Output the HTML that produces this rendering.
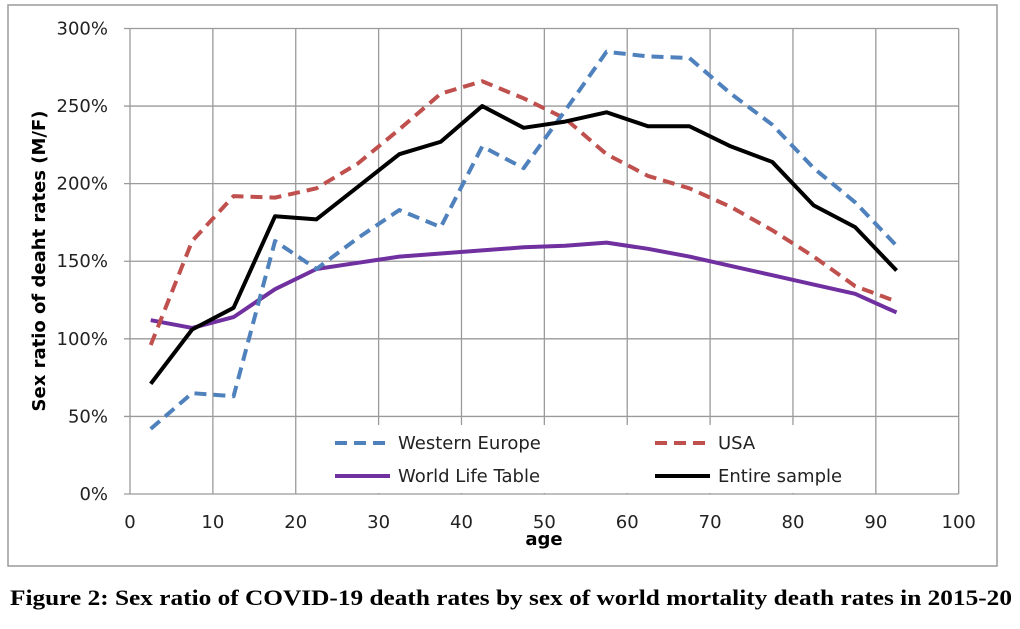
<!DOCTYPE html>
<html><head><meta charset="utf-8"><style>
body{margin:0;background:#fff;width:1020px;height:624px;overflow:hidden}
svg text{font-family:"DejaVu Sans","Liberation Sans",sans-serif}
</style></head><body>
<svg id="chart" width="1020" height="624">
<rect x="8" y="5" width="989" height="561" fill="#fff" stroke="#9a9a9a" stroke-width="1.5"/>
<g id="grid"></g><g id="series"></g><g id="legend"></g>
<text x="544" y="545" font-size="18" font-weight="bold" text-anchor="middle">age</text>
<text transform="translate(45,261) rotate(-90)" font-size="18" font-weight="bold" text-anchor="middle">Sex ratio of deaht rates (M/F)</text>
<text x="10" y="605" font-size="22" font-weight="bold" textLength="1002" lengthAdjust="spacingAndGlyphs" style="font-family:'Liberation Serif',serif">Figure 2: Sex ratio of COVID-19 death rates by sex of world mortality death rates in 2015-20</text>
</svg>
<script>
const ages=[2.5,7.5,12.5,17.5,22.5,27.5,32.5,37.5,42.5,47.5,52.5,57.5,62.5,67.5,72.5,77.5,82.5,87.5,92.5];
const westernEurope=[42,65,63,163,145,165,183,172,224,210,247,285,282,281,258,238,210,188,160];
const usa=[96,163,192,191,197,213,235,258,266,255,242,219,205,197,185,170,153,134,124];
const worldLife=[112,107,114,132,145,149,153,155,157,159,160,162,158,153,147,141,135,129,117];
const entireSample=[71,106,120,179,177,198,219,227,250,236,240,246,237,237,224,214,186,172,144];
const xTicks=[0,10,20,30,40,50,60,70,80,90,100];
const yTicks=[0,50,100,150,200,250,300];
const NS="http://www.w3.org/2000/svg";
const X=v=>130+v*8.287, Y=v=>494-v*1.5517;
function mk(t,a,p){const e=document.createElementNS(NS,t);for(const k in a)e.setAttribute(k,a[k]);p.appendChild(e);return e;}
const g=document.getElementById('grid');
xTicks.forEach(t=>{const l=mk('line',{x1:X(t),x2:X(t),y1:Y(300),y2:Y(0),stroke:'#9a9a9a','stroke-width':1.3},g);


const tx=mk('text',{x:X(t),y:528,'font-size':18,'text-anchor':'middle',fill:'#222'},g);tx.textContent=t;

});
yTicks.forEach(t=>{const l=mk('line',{x1:X(0)-6,x2:X(100),y1:Y(t),y2:Y(t),stroke:'#9a9a9a','stroke-width':1.3},g);


const tx=mk('text',{x:108,y:Y(t)+6,'font-size':18,'text-anchor':'end',fill:'#222'},g);tx.textContent=t+'%';

});
const s=document.getElementById('series');
function line(vals,col,dash,name){const p=mk('polyline',{points:vals.map((v,i)=>X(ages[i])+','+Y(v)).join(' '),fill:'none',stroke:col,'stroke-width':4,'stroke-dasharray':dash,'stroke-linejoin':'round'},s);

}
line(worldLife,'#7030a0','none','series-world-life-table');
line(usa,'#c0504d','12 7','series-usa');
line(westernEurope,'#4f81bd','12 7','series-western-europe');
line(entireSample,'#000','none','series-entire-sample');
const lg=document.getElementById('legend');
const bg=mk('rect',{x:320,y:425,width:540,height:68,fill:'#fff'},lg);


[[335,443,'#4f81bd','12 7','Western Europe'],[655,443,'#c0504d','12 7','USA'],[335,476,'#7030a0','none','World Life Table'],[655,476,'#000','none','Entire sample']].forEach(d=>{
const l=mk('line',{x1:d[0],x2:d[0]+55,y1:d[1],y2:d[1],stroke:d[2],'stroke-width':4,'stroke-dasharray':d[3]},lg);


const t=mk('text',{x:d[0]+63,y:d[1]+6,'font-size':18,fill:'#222'},lg);t.textContent=d[4];

});
</script>
</body></html>
